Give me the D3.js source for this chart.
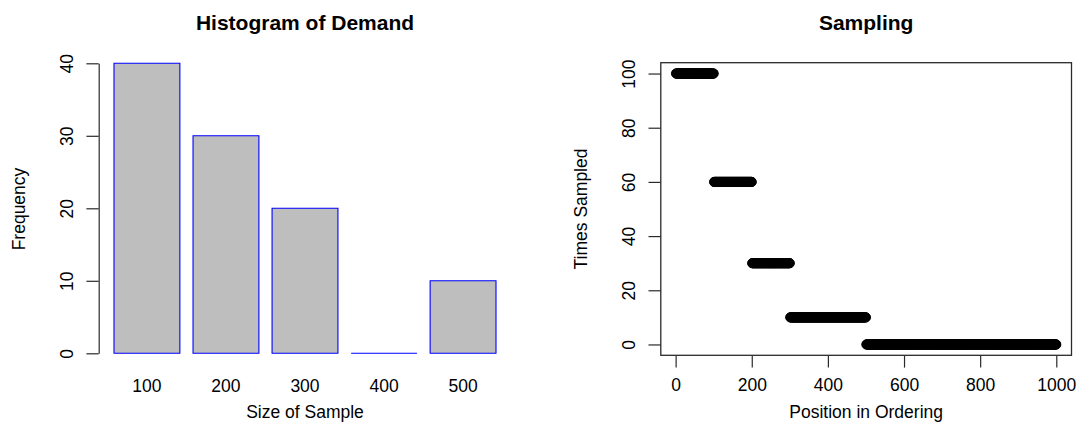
<!DOCTYPE html>
<html>
<head>
<meta charset="utf-8">
<script src="https://cdn.jsdelivr.net/npm/d3@7"></script>
<style>
  body { margin: 0; background: #fff; }
  svg { display: block; font-family: "Liberation Sans", Arial, Helvetica, sans-serif; }
</style>
</head>
<body>
<svg id="chart"></svg>
<script>
// Histogram of demand
const sampleSizes = ['100', '200', '300', '400', '500'];
const frequency = [40, 30, 20, 0, 10];
const freqTicks = [0, 10, 20, 30, 40];

// Sampling: each run of positions and how often it was sampled
const runStart = [1, 101, 201, 301, 501];
const runEnd = [100, 200, 300, 500, 1000];
const timesSampled = [100, 60, 30, 10, 0];
const posTicks = [0, 200, 400, 600, 800, 1000];
const timesTicks = [0, 20, 40, 60, 80, 100];

const width = 1081;
const height = 423;
const plotTop = 62.7;
const plotBottom = 355.3;
const tickLen = 12.3;
const fontSize = 17.5;
const axisColor = '#2a2a2a';

const svg = d3.select('#chart')
  .attr('width', width)
  .attr('height', height);

svg.append('rect')
  .attr('width', width)
  .attr('height', height)
  .attr('fill', '#fff');

// ---------- left panel ----------
const leftPanel = { x0: 98.7, x1: 511.3 };

const xBar = d3.scaleBand()
  .domain(sampleSizes)
  .range([114, 496])
  .paddingInner(0.2 / 1.2)
  .paddingOuter(0);

const yBar = d3.scaleLinear()
  .domain([0, 40])
  .range([353.3, 63.3]);

const gl = svg.append('g');

// bars as closed paths so a zero bar still shows its border
const barPath = (d, i) => {
  const x0 = xBar(sampleSizes[i]);
  const x1 = x0 + xBar.bandwidth();
  const p = d3.path();
  p.moveTo(x0, yBar(0));
  p.lineTo(x0, yBar(d));
  p.lineTo(x1, yBar(d));
  p.lineTo(x1, yBar(0));
  p.closePath();
  return p.toString();
};

gl.selectAll('.bar')
  .data(frequency)
  .enter().append('path')
    .attr('class', 'bar')
    .attr('d', barPath)
    .attr('fill', '#bebebe')
    .attr('stroke', '#0000ff')
    .attr('stroke-width', 1.1);

// y axis
const yAxisL = d3.axisLeft(yBar)
  .tickValues(freqTicks)
  .tickSize(tickLen)
  .tickSizeOuter(0)
  .tickFormat(d3.format('d'));

const yl = gl.append('g')
  .attr('transform', `translate(${leftPanel.x0}, 0)`)
  .call(yAxisL);
yl.selectAll('path, line').attr('stroke', axisColor).attr('stroke-width', 1.2);
yl.selectAll('text')
  .attr('x', null).attr('dy', null)
  .attr('transform', 'translate(-25.5, 0) rotate(-90)')
  .attr('text-anchor', 'middle')
  .attr('font-size', fontSize)
  .attr('fill', '#000');

// category labels
gl.selectAll('.cat')
  .data(sampleSizes)
  .enter().append('text')
    .attr('class', 'cat')
    .attr('x', d => xBar(d) + xBar.bandwidth() / 2)
    .attr('y', 391.5)
    .attr('text-anchor', 'middle')
    .attr('font-size', fontSize)
    .text(d => d);

gl.append('text')
  .attr('x', (leftPanel.x0 + leftPanel.x1) / 2)
  .attr('y', 30)
  .attr('text-anchor', 'middle')
  .attr('font-size', 21)
  .attr('font-weight', 'bold')
  .text('Histogram of Demand');

gl.append('text')
  .attr('x', (leftPanel.x0 + leftPanel.x1) / 2)
  .attr('y', 418)
  .attr('text-anchor', 'middle')
  .attr('font-size', fontSize)
  .text('Size of Sample');

gl.append('text')
  .attr('transform', `translate(${leftPanel.x0 - 74}, ${(plotTop + plotBottom) / 2}) rotate(-90)`)
  .attr('text-anchor', 'middle')
  .attr('font-size', fontSize)
  .text('Frequency');

// ---------- right panel ----------
const rightPanel = { x0: 660.8, x1: 1071.5 };

const x = d3.scaleLinear()
  .domain([1 - 0.04 * 999, 1000 + 0.04 * 999])
  .range([rightPanel.x0, rightPanel.x1]);

const y = d3.scaleLinear()
  .domain([-4, 104])
  .range([plotBottom, plotTop]);

const points = [];
runStart.forEach((s, i) => {
  for (let p = s; p <= runEnd[i]; p++) {
    points.push({ pos: p, times: timesSampled[i] });
  }
});

const gr = svg.append('g');

gr.selectAll('circle')
  .data(points)
  .enter().append('circle')
    .attr('cx', d => x(d.pos))
    .attr('cy', d => y(d.times))
    .attr('r', 4.6)
    .attr('fill', '#000')
    .attr('stroke', '#000')
    .attr('stroke-width', 0.8);

const xAxisR = d3.axisBottom(x)
  .tickValues(posTicks)
  .tickSize(tickLen)
  .tickSizeOuter(0)
  .tickFormat(d3.format('d'));

const xr = gr.append('g')
  .attr('transform', `translate(0, ${plotBottom})`)
  .call(xAxisR);
xr.select('.domain').remove();
xr.selectAll('line').attr('stroke', axisColor).attr('stroke-width', 1.2);
xr.selectAll('text')
  .attr('y', 391.5 - plotBottom).attr('dy', null)
  .attr('font-size', fontSize)
  .attr('fill', '#000');

const yAxisR = d3.axisLeft(y)
  .tickValues(timesTicks)
  .tickSize(tickLen)
  .tickSizeOuter(0)
  .tickFormat(d3.format('d'));

const yr = gr.append('g')
  .attr('transform', `translate(${rightPanel.x0}, 0)`)
  .call(yAxisR);
yr.select('.domain').remove();
yr.selectAll('line').attr('stroke', axisColor).attr('stroke-width', 1.2);
yr.selectAll('text')
  .attr('x', null).attr('dy', null)
  .attr('transform', 'translate(-25.5, 0) rotate(-90)')
  .attr('text-anchor', 'middle')
  .attr('font-size', fontSize)
  .attr('fill', '#000');

// box
gr.append('rect')
  .attr('x', rightPanel.x0)
  .attr('y', plotTop)
  .attr('width', rightPanel.x1 - rightPanel.x0)
  .attr('height', plotBottom - plotTop)
  .attr('fill', 'none')
  .attr('stroke', axisColor)
  .attr('stroke-width', 1.3);

gr.append('text')
  .attr('x', (rightPanel.x0 + rightPanel.x1) / 2)
  .attr('y', 30)
  .attr('text-anchor', 'middle')
  .attr('font-size', 21)
  .attr('font-weight', 'bold')
  .text('Sampling');

gr.append('text')
  .attr('x', (rightPanel.x0 + rightPanel.x1) / 2)
  .attr('y', 418)
  .attr('text-anchor', 'middle')
  .attr('font-size', fontSize)
  .text('Position in Ordering');

gr.append('text')
  .attr('transform', `translate(${rightPanel.x0 - 74}, ${(plotTop + plotBottom) / 2}) rotate(-90)`)
  .attr('text-anchor', 'middle')
  .attr('font-size', fontSize)
  .text('Times Sampled');
</script>
</body>
</html>
